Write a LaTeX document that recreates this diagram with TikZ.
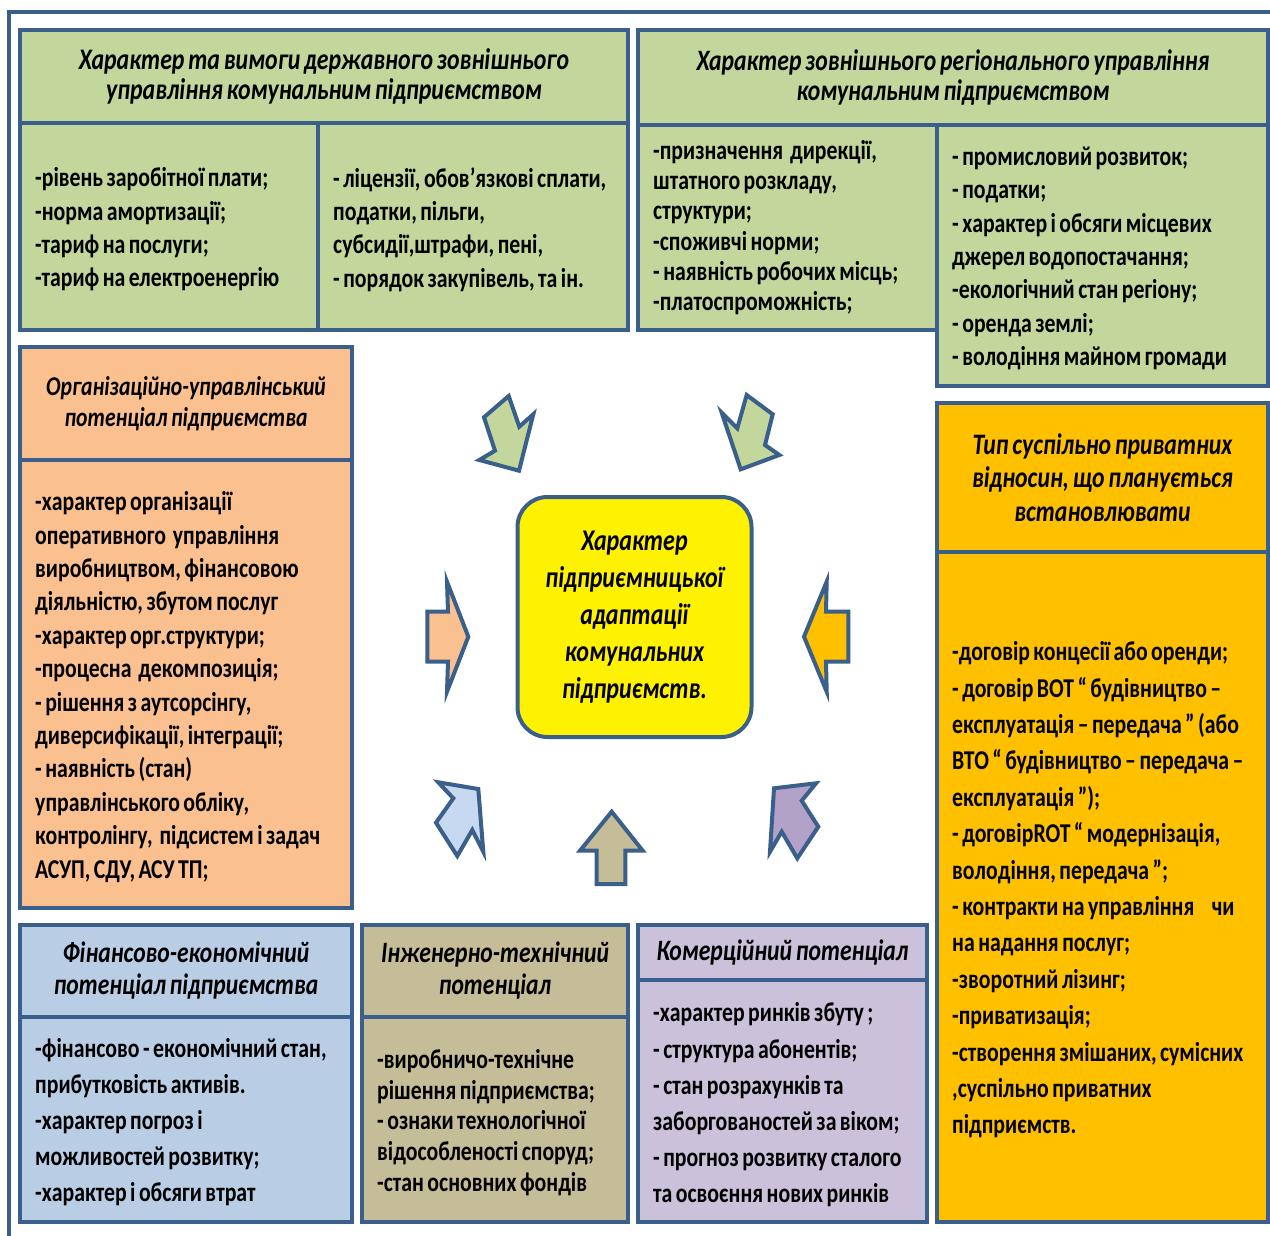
\documentclass[tikz,border=0pt]{standalone}
\usepackage{fontspec}
\setmainfont{Carlito}[FakeStretch=0.8, WordSpace=0.7]
\definecolor{edge}{HTML}{3A5F8B}
\definecolor{olive}{HTML}{C3D69B}
\definecolor{peach}{HTML}{FAC090}
\definecolor{amber}{HTML}{FFC000}
\definecolor{skyb}{HTML}{B9CDE5}
\definecolor{tan}{HTML}{C4BD97}
\definecolor{lilac}{HTML}{CCC1DA}
\definecolor{lilacdk}{HTML}{B3A2C7}
\definecolor{paleblue}{HTML}{C6D9F1}
\begin{document}
\begin{tikzpicture}[x=1pt,y=-1pt,
  cell/.style={draw=edge, line width=4pt, inner sep=0pt, outer sep=0pt, anchor=north west},
  head/.style={cell, align=center},
  hfont/.style 2 args={font=\fontsize{#1}{#2}\selectfont\bfseries\itshape},
  items/.style={anchor=west, align=left, inner sep=0pt, xshift=15pt, yshift=-3pt,
    font=\fontsize{27.2}{#1}\selectfont\bfseries},
  blockarrow/.style={draw=edge, line width=4pt, line join=miter}]

\useasboundingbox (0,0) rectangle (1270,1236);
\fill[white] (0,0) rectangle (1270,1236);

% outer frame (only the top and left rules are visible)
\draw[edge, line width=4pt] (9,1236) -- (9,12) -- (1270,12);

% state-level external management
\node[head, hfont={29.8}{30}, fill=olive, minimum width=608, minimum height=93] (stateH) at (20,30)
  {Характер та вимоги державного зовнішнього\\управління комунальним підприємством};
\node[cell, fill=olive, minimum width=298, minimum height=207] (stateL) at (20,123) {};
\node[items=33.3] (stateLt) at (stateL.west)
  {-рівень заробітної плати;\\-норма амортизації;\\-тариф на послуги;\\-тариф на електроенергію};
\node[cell, fill=olive, minimum width=310, minimum height=207] (stateR) at (318,123) {};
\node[items=33.3] (stateRt) at (stateR.west)
  {- ліцензії, обов’язкові сплати,\\податки, пільги,\\субсидії,штрафи, пені,\\- порядок закупівель, та ін.};

% regional external management
\node[head, hfont={29.6}{30}, fill=olive, minimum width=630, minimum height=95] (regH) at (638,30)
  {Характер зовнішнього регіонального управління\\комунальним підприємством};
\node[cell, fill=olive, minimum width=299, minimum height=205] (regL) at (638,125) {};
\node[items=30.2] (regLt) at ([yshift=3pt]regL.west)
  {-призначення\ \ дирекції,\\штатного розкладу,\\структури;\\-споживчі норми;\\- наявність робочих місць;\\-платоспроможність;};
\node[cell, fill=olive, minimum width=331, minimum height=261] (regR) at (937,125) {};
\node[items=33.3] (regRt) at (regR.west)
  {- промисловий розвиток;\\- податки;\\- характер і обсяги місцевих\\джерел водопостачання;\\-екологічний стан регіону;\\- оренда землі;\\- володіння майном громади};

% organisational potential
\node[head, hfont={27.1}{31}, fill=peach, minimum width=332, minimum height=113] (orgH) at (20,347)
  {Організаційно-управлінський\\потенціал підприємства};
\node[cell, fill=peach, minimum width=332, minimum height=448] (orgB) at (20,460) {};
\node[items=33.4] (orgBt) at (orgB.west)
  {-характер організації\\оперативного\ \ управління\\виробництвом, фінансовою\\діяльністю, збутом послуг\\-характер орг.структури;\\-процесна\ \ декомпозиція;\\- рішення з аутсорсінгу,\\диверсифікації, інтеграції;\\- наявність (стан)\\управлінського обліку,\\контролінгу,\ \ підсистем і задач\\АСУП, СДУ, АСУ ТП;};

% public-private relations
\node[head, hfont={29.7}{33.5}, fill=amber, minimum width=331, minimum height=149] (pppH) at (937,403)
  {Тип суспільно приватних\\відносин, що планується\\встановлювати};
\node[cell, fill=amber, minimum width=331, minimum height=670] (pppB) at (937,552) {};
\node[items=36.4] (pppBt) at (pppB.west)
  {-договір концесії або оренди;\\- договір BOT “ будівництво –\\експлуатація – передача ” (або\\ВТО “ будівництво – передача –\\експлуатація ”);\\- договірROT “ модернізація,\\володіння, передача ”;\\- контракти на управління\hspace{14pt} чи\\на надання послуг;\\-зворотний лізинг;\\-приватизація;\\-створення змішаних, сумісних\\,суспільно приватних\\підприємств.};

% financial potential
\node[head, hfont={29.5}{32}, fill=skyb, minimum width=332, minimum height=92] (finH) at (20,925)
  {Фінансово-економічний\\потенціал підприємства};
\node[cell, fill=skyb, minimum width=332, minimum height=205] (finB) at (20,1017) {};
\node[items=36] (finBt) at (finB.west)
  {-фінансово - економічний стан,\\прибутковість активів.\\-характер погроз і\\можливостей розвитку;\\-характер і обсяги втрат};

% engineering potential
\node[head, hfont={29.5}{32}, fill=tan, minimum width=266, minimum height=92] (engH) at (362,925)
  {Інженерно-технічний\\потенціал};
\node[cell, fill=tan, minimum width=266, minimum height=205] (engB) at (362,1017) {};
\node[items=30.8] (engBt) at (engB.west)
  {-виробничо-технічне\\рішення підприємства;\\- ознаки технологічної\\відособленості споруд;\\-стан основних фондів};

% commercial potential
\node[head, hfont={29.6}{30}, fill=lilac, minimum width=289, minimum height=55] (comH) at (638,925)
  {Комерційний потенціал};
\node[cell, fill=lilac, minimum width=289, minimum height=242] (comB) at (638,980) {};
\node[items=36.2] (comBt) at ([yshift=-1pt]comB.west)
  {-характер ринків збуту ;\\- структура абонентів;\\- стан розрахунків та\\заборгованостей за віком;\\- прогноз розвитку сталого\\та освоєння нових ринків};

% central element
\node[draw=edge, line width=4pt, fill=yellow, rounded corners=30pt, minimum width=234, minimum height=240,
  align=center, font=\fontsize{30}{37}\selectfont\bfseries\itshape] (core) at (634.5,617)
  {Характер\\підприємницької\\адаптації\\комунальних\\підприємств.};

% block arrows pointing to the centre
\filldraw[blockarrow, fill=olive] (508.7,396) -- (519.3,426.7) -- (533.3,414.3) -- (519,470.7)
  -- (479.3,460) -- (495,450.7) -- (484,417.3) -- cycle;
\filldraw[blockarrow, fill=olive] (746.7,395) -- (772.7,414.3) -- (765,445) -- (779.3,455)
  -- (740.7,469.3) -- (721.7,412.7) -- (737.3,428.3) -- cycle;
\filldraw[blockarrow, fill=peach] (427.3,611.7) -- (448,611.7) -- (447,581.7) -- (468.3,636.7)
  -- (447,691.7) -- (448,661.7) -- (427.3,661.7) -- cycle;
\filldraw[blockarrow, fill=amber] (848.3,611.7) -- (826,611.7) -- (826.7,581.7) -- (804,636.7)
  -- (826.7,691.7) -- (826,661.7) -- (848.3,661.7) -- cycle;
\filldraw[blockarrow, fill=paleblue] (438.3,782.3) -- (478.3,789) -- (483.3,851.7) -- (472.3,830)
  -- (457.3,856) -- (436,822.7) -- (453.3,798.3) -- cycle;
\filldraw[blockarrow, fill=tan] (611.7,811.7) -- (642.7,850.7) -- (625.3,850.7) -- (625.3,884)
  -- (596.7,884) -- (596.7,850.7) -- (580,850.7) -- cycle;
\filldraw[blockarrow, fill=lilacdk] (816,783.3) -- (774,788.3) -- (770,851.7) -- (781.7,831.7)
  -- (797.3,858.3) -- (818.3,826.7) -- (801.7,800.7) -- cycle;
\end{tikzpicture}
\end{document}
